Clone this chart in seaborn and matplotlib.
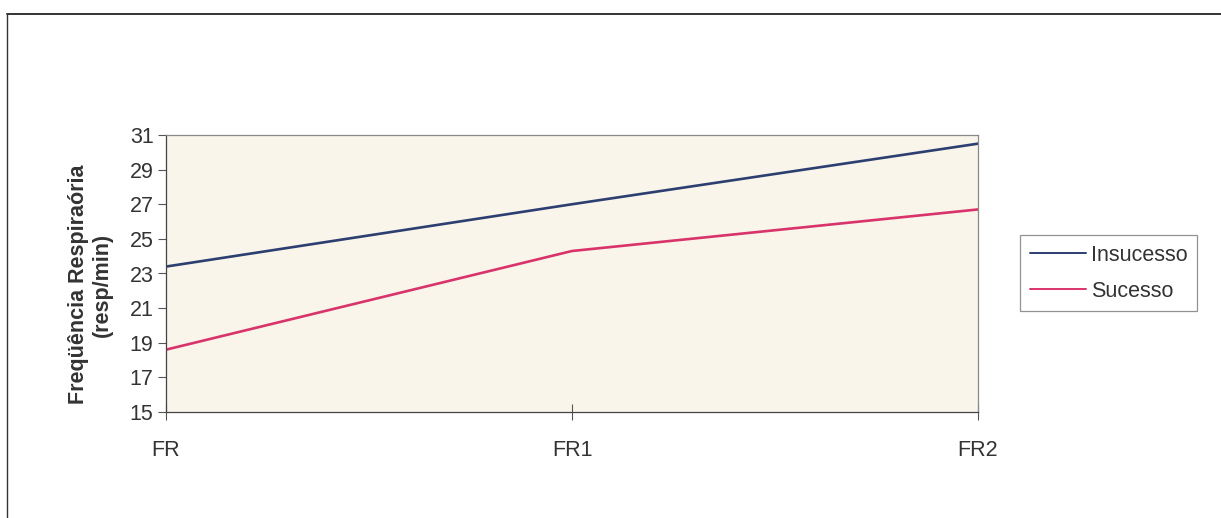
import matplotlib
matplotlib.use("Agg")
import matplotlib.pyplot as plt
from matplotlib.lines import Line2D
import pandas as pd
import seaborn as sns

# Respiratory rate at three measurement moments
momentos = ["FR", "FR1", "FR2"]
insucesso = [23.4, 27.0, 30.5]
sucesso = [18.6, 24.3, 26.7]
grupos = ["Insucesso", "Sucesso"]
cores = ["#2c3f70", "#d9336b"]
y_ticks = [15, 17, 19, 21, 23, 25, 27, 29, 31]

df = pd.DataFrame({
    "momento": momentos * 2,
    "x": list(range(len(momentos))) * 2,
    "valor": insucesso + sucesso,
    "grupo": [grupos[0]] * 3 + [grupos[1]] * 3,
})

sns.set_theme(style="white")
narrow = ["Liberation Sans Narrow", "Liberation Sans", "DejaVu Sans"]
plt.rcParams["font.family"] = narrow

fig = plt.figure(figsize=(12.21, 5.18), dpi=100)
fig.patch.set_facecolor("white")
ax = fig.add_axes([166 / 1221, 1 - 412 / 518, (978 - 166) / 1221, (412 - 135) / 518])
ax.set_facecolor("#f9f5eb")

sns.lineplot(data=df, x="x", y="valor", hue="grupo", palette=cores,
             linewidth=1.9, ax=ax, legend=False)

ax.set_xlim(0, 2)
ax.set_ylim(15, 31)
ax.set_yticks(y_ticks)
ax.set_xticks(range(len(momentos)))
ax.set_xticklabels(momentos)
ax.tick_params(axis="y", direction="out", length=6, width=0.8, color="#555555",
               labelsize=15.5, pad=3, left=True, labelcolor="#333333")
ax.tick_params(axis="x", direction="inout", length=12, width=0.8, color="#555555",
               labelsize=15.5, pad=14, bottom=True, labelcolor="#333333")
for side in ["top", "right", "left", "bottom"]:
    ax.spines[side].set_visible(True)
    ax.spines[side].set_color("#8a8a8a")
    ax.spines[side].set_linewidth(0.9)
ax.spines["bottom"].set_color("#444444")
ax.spines["left"].set_color("#444444")
ax.set_xlabel("")
ax.set_ylabel("Freqüência Respiraória\n(resp/min)", fontsize=15.5,
              fontweight="bold", color="#333333", labelpad=12, linespacing=1.2,
              family=["Liberation Sans", "DejaVu Sans"])
ax.yaxis.label.set_y(0.46)

handles = [Line2D([0], [0], color=c, lw=1.4) for c in cores]
leg = fig.legend(handles, grupos, loc="upper left",
                 bbox_to_anchor=(1020 / 1221, 1 - 235 / 518),
                 frameon=True, fancybox=False, fontsize=15.5,
                 handlelength=2.6, handletextpad=0.25, borderpad=0.45,
                 labelspacing=0.7, borderaxespad=0)
for t in leg.get_texts():
    t.set_color("#333333")
leg.get_frame().set_edgecolor("#777777")
leg.get_frame().set_linewidth(0.9)

# Chart-area frame (top and left edges)
fig.add_artist(Line2D([7 / 1221, 1.0], [1 - 14 / 518, 1 - 14 / 518],
                      transform=fig.transFigure, color="#333333", lw=1.4))
fig.add_artist(Line2D([7 / 1221, 7 / 1221], [1 - 14 / 518, 0.0],
                      transform=fig.transFigure, color="#333333", lw=1.0))

fig.savefig("out.png", dpi=100)
